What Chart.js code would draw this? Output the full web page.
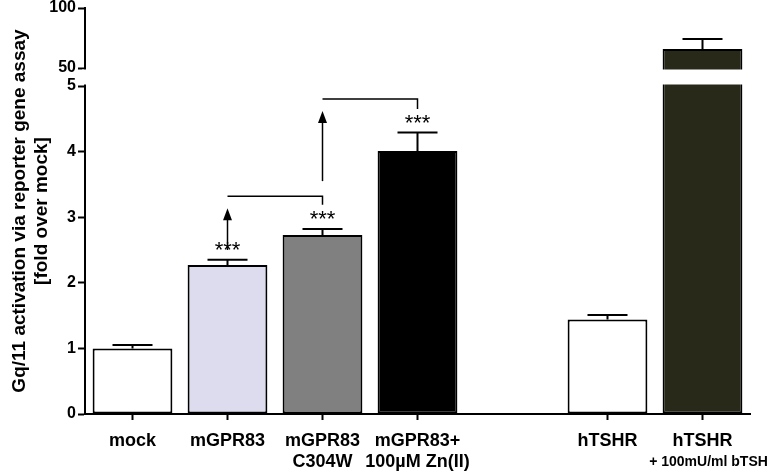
<!DOCTYPE html>
<html>
<head>
<meta charset="utf-8">
<script src="https://cdn.jsdelivr.net/npm/chart.js@4.4.1/dist/chart.umd.min.js"></script>
<style>
  html, body { margin: 0; padding: 0; background: #ffffff; }
  #wrap { width: 770px; height: 476px; }
</style>
</head>
<body>
<div id="wrap"><canvas id="myChart" width="770" height="476"></canvas></div>
<script>

// categories (empty slot between the two groups)
const categories = ['mock', 'mGPR83', ['mGPR83', 'C304W'], ['mGPR83+', '100\u00b5M Zn(II)'], '', 'hTSHR', ['hTSHR']];
const subLabels = [null, null, null, null, null, null, '+ 100mU/ml bTSH'];

// fold over mock, mean and SEM
const values = [1.0, 2.27, 2.73, 4.01, null, 1.44, 65.8];
const errors = [0.05, 0.08, 0.09, 0.28, null, 0.07, 8.4];
const stars = [null, '***', '***', '***', null, null, null];

const barColors = ['#ffffff', '#dcdcee', '#808080', '#000000', '#ffffff', '#ffffff', '#29291a'];

// broken y axis: 0-5 below, 50-100 above
const yTicks = [0, 1, 2, 3, 4, 5, 50, 100];
const lowMax = 5, highMin = 50, highMax = 100;

// comparison brackets: arrow from bar "from" goes up to a bracket that drops onto bar "to"
const brackets = [
    { from: 1, to: 2, arrowStart: 2.5, level: 3.32, drop: 3.19 },
    { from: 2, to: 3, arrowStart: 3.55, level: 4.80, drop: 4.65 }
];

const lowShare = 328 / 406;
const gapShare = 18 / 406;

class BrokenScale extends Chart.LinearScale {
    determineDataLimits() {
        this.min = 0;
        this.max = highMax;
    }
    buildTicks() {
        return yTicks.map(v => ({ value: v }));
    }
    getPixelForValue(v) {
        const h = this.bottom - this.top;
        const lowH = h * lowShare, gapH = h * gapShare, highH = h - lowH - gapH;
        if (v <= lowMax) return this.bottom - v / lowMax * lowH;
        if (v < highMin) return this.bottom - lowH - (v - lowMax) / (highMin - lowMax) * gapH;
        return this.top + (highMax - v) / (highMax - highMin) * highH;
    }
    getValueForPixel(p) {
        const h = this.bottom - this.top;
        const lowH = h * lowShare, gapH = h * gapShare, highH = h - lowH - gapH;
        const d = this.bottom - p;
        if (d <= lowH) return d / lowH * lowMax;
        if (d < lowH + gapH) return lowMax + (d - lowH) / gapH * (highMin - lowMax);
        return highMin + (d - lowH - gapH) / highH * (highMax - highMin);
    }
}
BrokenScale.id = 'broken';
BrokenScale.defaults = Chart.LinearScale.defaults;
Chart.register(BrokenScale);

const extras = {
    id: 'extras',
    afterDatasetsDraw(chart) {
        const ctx = chart.ctx;
        const y = chart.scales.y;
        const x = chart.scales.x;
        const meta = chart.getDatasetMeta(0);
        const area = chart.chartArea;
        ctx.save();
        ctx.strokeStyle = '#000';
        ctx.fillStyle = '#000';
        ctx.lineWidth = 2;

        // error bars
        values.forEach((v, i) => {
            if (v == null) return;
            const bx = meta.data[i].x;
            const y0 = y.getPixelForValue(v);
            const y1 = y.getPixelForValue(v + errors[i]);
            ctx.beginPath();
            ctx.moveTo(bx, y0);
            ctx.lineTo(bx, y1);
            ctx.moveTo(bx - 20, y1);
            ctx.lineTo(bx + 20, y1);
            ctx.stroke();
            if (stars[i]) {
                ctx.font = '22px "Liberation Sans", Arial, sans-serif';
                ctx.textAlign = 'center';
                ctx.textBaseline = 'alphabetic';
                ctx.fillText(stars[i], bx, y1 - 3);
            }
        });

        // arrows and brackets
        ctx.lineWidth = 1.5;
        brackets.forEach(b => {
            const xa = meta.data[b.from].x;
            const xb = meta.data[b.to].x;
            const ys = y.getPixelForValue(b.arrowStart);
            const yl = y.getPixelForValue(b.level);
            const yd = y.getPixelForValue(b.drop);
            const tip = yl + 12;
            ctx.beginPath();
            ctx.moveTo(xa, ys);
            ctx.lineTo(xa, tip + 10);
            ctx.stroke();
            ctx.beginPath();
            ctx.moveTo(xa, tip);
            ctx.lineTo(xa - 4.5, tip + 12);
            ctx.lineTo(xa + 4.5, tip + 12);
            ctx.closePath();
            ctx.fill();
            ctx.beginPath();
            ctx.moveTo(xa, yl);
            ctx.lineTo(xb, yl);
            ctx.lineTo(xb, yd);
            ctx.stroke();
        });

        // white gap of the broken axis
        const gTop = y.getPixelForValue(highMin) + 1.5;
        const gBot = y.getPixelForValue(lowMax) - 1.5;
        ctx.fillStyle = '#ffffff';
        ctx.fillRect(area.left - 3, gTop, area.right - area.left + 6, gBot - gTop);

        // second smaller label line
        ctx.fillStyle = '#000';
        ctx.font = 'bold 14px "Liberation Sans", Arial, sans-serif';
        ctx.textAlign = 'center';
        ctx.textBaseline = 'middle';
        subLabels.forEach((s, i) => {
            if (!s) return;
            ctx.fillText(s, x.getPixelForTick(i) + 6, 462);
        });
        ctx.restore();
    }
};

const myChart = new Chart(document.getElementById('myChart').getContext('2d'), {
    type: 'bar',
    data: {
        labels: categories,
        datasets: [{
            data: values,
            backgroundColor: barColors,
            borderColor: '#000000',
            borderWidth: 2,
            borderSkipped: false,
            barPercentage: 0.84,
            categoryPercentage: 1.0
        }]
    },
    options: {
        responsive: false,
        animation: false,
        layout: {
            padding: { top: 0, right: 20, bottom: 0, left: 0 }
        },
        plugins: {
            legend: { display: false },
            tooltip: { enabled: false }
        },
        scales: {
            x: {
                grid: {
                    offset: false,
                    drawOnChartArea: false,
                    tickLength: 6,
                    tickWidth: 2,
                    tickColor: (c) => (c.index === 4 ? 'rgba(0,0,0,0)' : '#000')
                },
                border: { color: '#000', width: 2 },
                ticks: {
                    color: '#000',
                    autoSkip: false,
                    maxRotation: 0,
                    padding: 10,
                    font: { family: '"Liberation Sans", Arial, sans-serif', size: 18, weight: 'bold' }
                },
                afterFit: (scale) => { scale.height = 62; }
            },
            y: {
                type: 'broken',
                grid: {
                    drawOnChartArea: false,
                    tickLength: 7,
                    tickWidth: 2,
                    tickColor: '#000'
                },
                border: { color: '#000', width: 2 },
                ticks: {
                    color: '#000',
                    autoSkip: false,
                    padding: 2,
                    font: { family: '"Liberation Sans", Arial, sans-serif', size: 16, weight: 'bold' }
                },
                title: {
                    display: true,
                    text: ['Gq/11 activation via reporter gene assay', '[fold over mock]'],
                    color: '#000',
                    padding: { top: 8, bottom: 0 },
                    font: { family: '"Liberation Sans", Arial, sans-serif', size: 19, weight: 'bold' }
                },
                afterFit: (scale) => {
                    scale.width = 85;
                    scale.paddingTop = 8;
                }
            }
        }
    },
    plugins: [extras]
});

</script>
</body>
</html>
